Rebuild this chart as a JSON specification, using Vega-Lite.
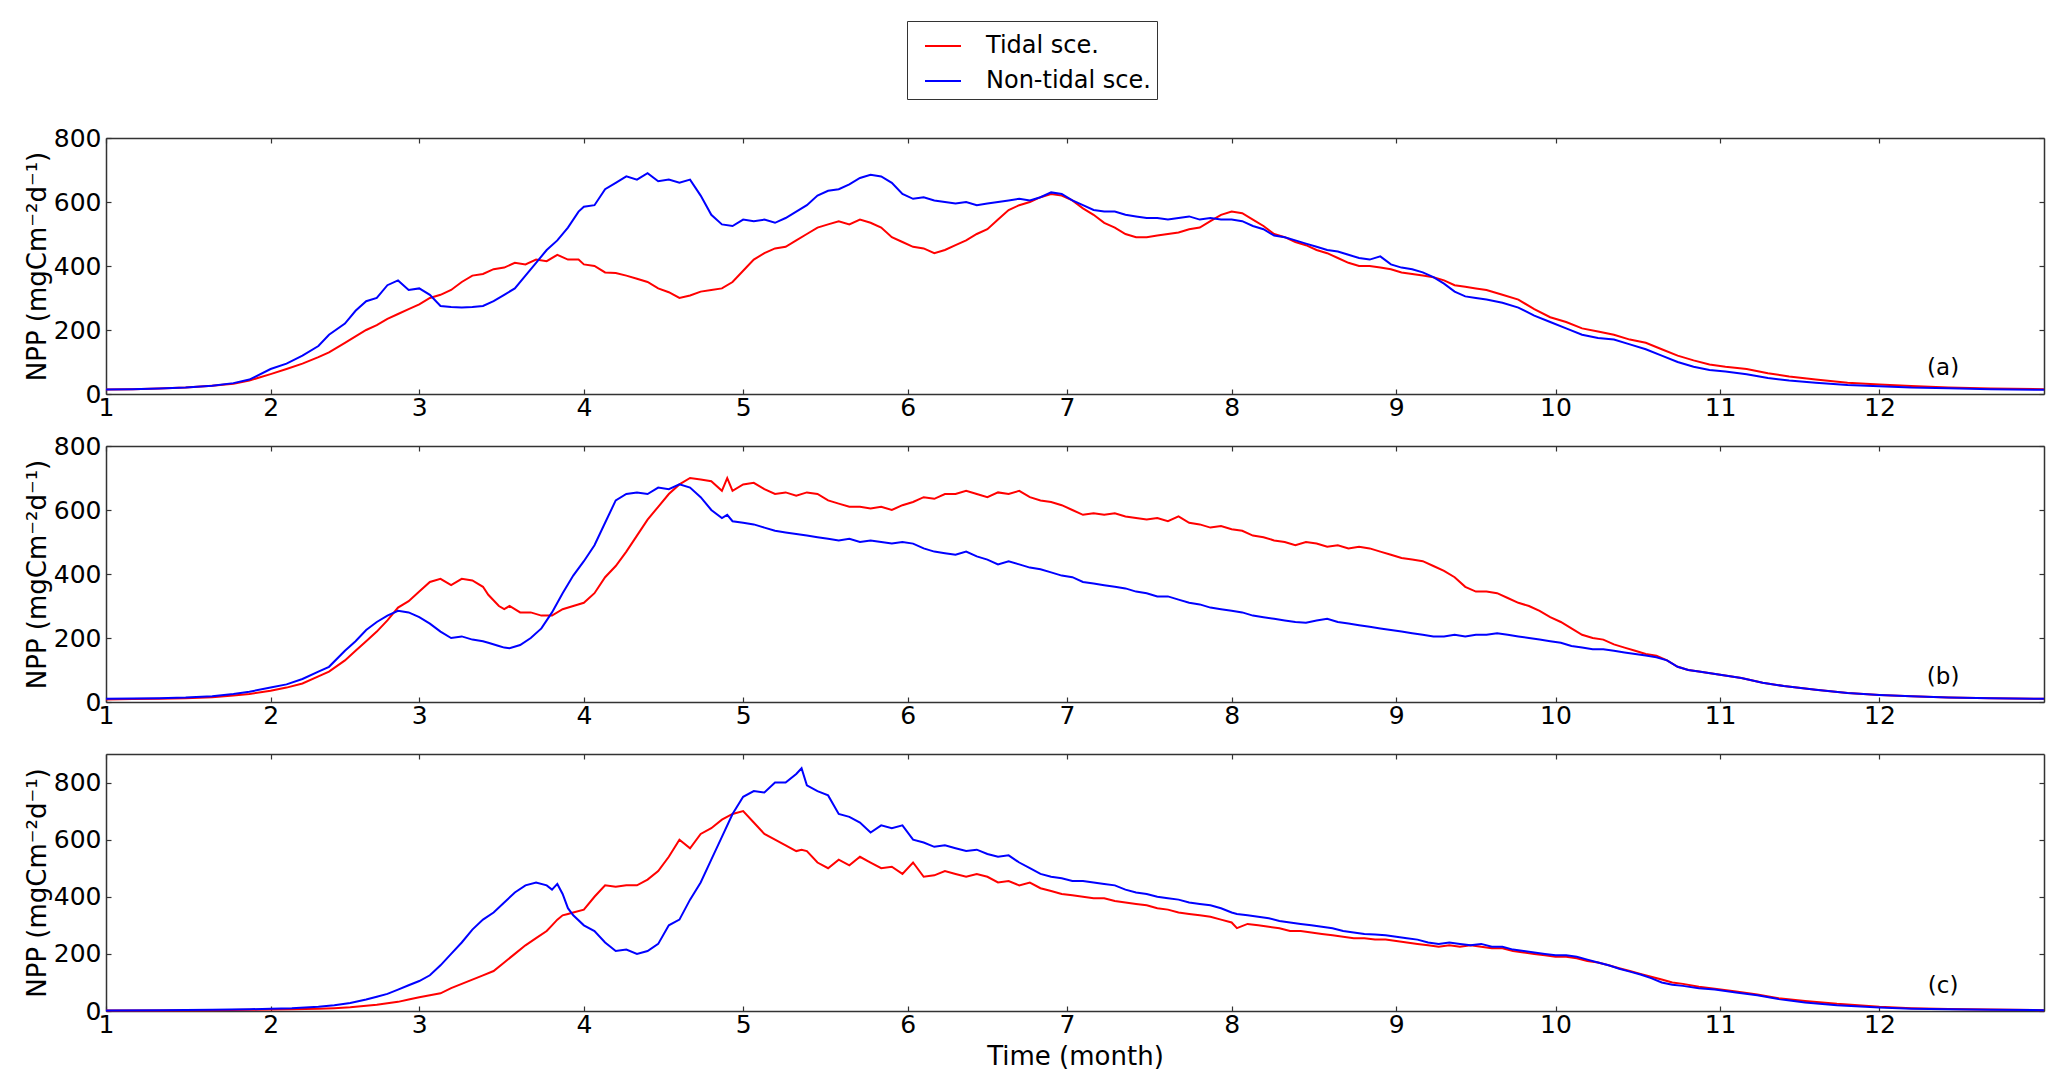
{
"$schema":"https://vega.github.io/schema/vega-lite/v6.json",
"background":"white",
"padding":{"left":24,"top":20,"right":21,"bottom":10},
"config":{
 "font":"DejaVu Sans",
 "view":{"stroke":null},
 "axis":{"labelFont":"DejaVu Sans","labelFontSize":25,"labelColor":"black","titleFont":"DejaVu Sans","titleFontSize":26,"titleColor":"black","titleFontWeight":"normal","domainColor":"#333333","domainWidth":1.5,"tickColor":"#333333","tickWidth":1.2,"tickSize":-5,"grid":false,"labelFlush":false,"labelOverlap":false,"labelBound":false},
 "legend":{"labelFont":"DejaVu Sans","labelFontSize":24,"labelColor":"black","labelLimit":400}
},
"datasets":{
"a":[{"d":0,"t":14,"n":14},{"d":5,"t":15,"n":15},{"d":10,"t":17,"n":17},{"d":15,"t":20,"n":20},{"d":20,"t":26,"n":26},{"d":24,"t":32,"n":34},{"d":27,"t":42,"n":45},{"d":31,"t":62,"n":78},{"d":34,"t":78,"n":95},{"d":37,"t":95,"n":120},{"d":40,"t":115,"n":150},{"d":42,"t":130,"n":185},{"d":45,"t":160,"n":220},{"d":47,"t":180,"n":260},{"d":49,"t":200,"n":290},{"d":51,"t":215,"n":300},{"d":53,"t":235,"n":340},{"d":55,"t":250,"n":355},{"d":57,"t":265,"n":325},{"d":59,"t":280,"n":330},{"d":61,"t":300,"n":310},{"d":63,"t":310,"n":275},{"d":65,"t":325,"n":272},{"d":67,"t":350,"n":270},{"d":69,"t":370,"n":272},{"d":71,"t":375,"n":275},{"d":73,"t":390,"n":290},{"d":75,"t":395,"n":310},{"d":77,"t":410,"n":330},{"d":79,"t":405,"n":370},{"d":81,"t":420,"n":410},{"d":83,"t":415,"n":450},{"d":85,"t":435,"n":480},{"d":87,"t":420,"n":520},{"d":89,"t":420,"n":570},{"d":90,"t":405,"n":585},{"d":92,"t":400,"n":590},{"d":94,"t":380,"n":640},{"d":96,"t":378,"n":660},{"d":98,"t":370,"n":680},{"d":100,"t":360,"n":670},{"d":102,"t":350,"n":690},{"d":104,"t":330,"n":665},{"d":106,"t":318,"n":670},{"d":108,"t":300,"n":660},{"d":110,"t":308,"n":670},{"d":112,"t":320,"n":620},{"d":114,"t":325,"n":560},{"d":116,"t":330,"n":530},{"d":118,"t":350,"n":525},{"d":120,"t":385,"n":545},{"d":122,"t":420,"n":540},{"d":124,"t":440,"n":545},{"d":126,"t":455,"n":535},{"d":128,"t":460,"n":550},{"d":130,"t":480,"n":570},{"d":132,"t":500,"n":590},{"d":134,"t":520,"n":620},{"d":136,"t":530,"n":635},{"d":138,"t":540,"n":640},{"d":140,"t":530,"n":655},{"d":142,"t":545,"n":675},{"d":144,"t":535,"n":685},{"d":146,"t":520,"n":680},{"d":148,"t":490,"n":660},{"d":150,"t":475,"n":625},{"d":152,"t":460,"n":610},{"d":154,"t":455,"n":615},{"d":156,"t":440,"n":605},{"d":158,"t":450,"n":600},{"d":160,"t":465,"n":595},{"d":162,"t":480,"n":600},{"d":164,"t":500,"n":590},{"d":166,"t":515,"n":595},{"d":168,"t":545,"n":600},{"d":170,"t":575,"n":605},{"d":172,"t":590,"n":610},{"d":174,"t":600,"n":605},{"d":176,"t":615,"n":615},{"d":178,"t":625,"n":630},{"d":180,"t":620,"n":625},{"d":182,"t":605,"n":605},{"d":184,"t":580,"n":590},{"d":186,"t":560,"n":575},{"d":188,"t":535,"n":570},{"d":190,"t":520,"n":570},{"d":192,"t":500,"n":560},{"d":194,"t":490,"n":555},{"d":196,"t":490,"n":550},{"d":198,"t":495,"n":550},{"d":200,"t":500,"n":545},{"d":202,"t":505,"n":550},{"d":204,"t":515,"n":555},{"d":206,"t":520,"n":545},{"d":208,"t":540,"n":550},{"d":210,"t":560,"n":545},{"d":212,"t":570,"n":545},{"d":214,"t":565,"n":540},{"d":216,"t":545,"n":525},{"d":218,"t":525,"n":515},{"d":220,"t":500,"n":495},{"d":222,"t":490,"n":490},{"d":224,"t":475,"n":480},{"d":226,"t":465,"n":470},{"d":228,"t":450,"n":460},{"d":230,"t":440,"n":450},{"d":232,"t":425,"n":445},{"d":234,"t":410,"n":435},{"d":236,"t":400,"n":425},{"d":238,"t":400,"n":420},{"d":240,"t":395,"n":430},{"d":242,"t":390,"n":405},{"d":244,"t":380,"n":395},{"d":246,"t":375,"n":390},{"d":248,"t":370,"n":380},{"d":250,"t":365,"n":365},{"d":252,"t":355,"n":345},{"d":254,"t":340,"n":320},{"d":256,"t":335,"n":305},{"d":258,"t":330,"n":300},{"d":260,"t":325,"n":295},{"d":263,"t":310,"n":285},{"d":266,"t":295,"n":270},{"d":269,"t":265,"n":245},{"d":272,"t":240,"n":225},{"d":275,"t":225,"n":205},{"d":278,"t":205,"n":185},{"d":281,"t":195,"n":175},{"d":284,"t":185,"n":170},{"d":287,"t":170,"n":155},{"d":290,"t":160,"n":140},{"d":293,"t":140,"n":120},{"d":296,"t":120,"n":100},{"d":299,"t":105,"n":85},{"d":302,"t":92,"n":75},{"d":305,"t":85,"n":70},{"d":309,"t":78,"n":62},{"d":313,"t":65,"n":50},{"d":317,"t":55,"n":42},{"d":322,"t":45,"n":35},{"d":328,"t":35,"n":28},{"d":334,"t":30,"n":24},{"d":340,"t":25,"n":20},{"d":347,"t":20,"n":18},{"d":355,"t":17,"n":15},{"d":365,"t":15,"n":13}],
"b":[{"d":0,"t":8,"n":10},{"d":5,"t":9,"n":11},{"d":10,"t":10,"n":12},{"d":15,"t":12,"n":14},{"d":20,"t":15,"n":18},{"d":24,"t":20,"n":25},{"d":27,"t":25,"n":32},{"d":31,"t":35,"n":45},{"d":34,"t":45,"n":55},{"d":37,"t":58,"n":72},{"d":40,"t":80,"n":95},{"d":42,"t":95,"n":110},{"d":45,"t":130,"n":160},{"d":47,"t":160,"n":190},{"d":49,"t":190,"n":225},{"d":51,"t":220,"n":250},{"d":53,"t":255,"n":270},{"d":55,"t":295,"n":285},{"d":57,"t":315,"n":280},{"d":59,"t":345,"n":265},{"d":61,"t":375,"n":245},{"d":63,"t":385,"n":220},{"d":65,"t":365,"n":200},{"d":67,"t":385,"n":205},{"d":69,"t":380,"n":195},{"d":71,"t":360,"n":190},{"d":72,"t":335,"n":185},{"d":74,"t":300,"n":175},{"d":75,"t":290,"n":170},{"d":76,"t":300,"n":168},{"d":78,"t":280,"n":178},{"d":80,"t":280,"n":200},{"d":82,"t":270,"n":230},{"d":84,"t":270,"n":280},{"d":86,"t":290,"n":340},{"d":88,"t":300,"n":395},{"d":90,"t":310,"n":440},{"d":92,"t":340,"n":490},{"d":94,"t":390,"n":560},{"d":96,"t":425,"n":630},{"d":98,"t":470,"n":650},{"d":100,"t":520,"n":655},{"d":102,"t":570,"n":650},{"d":104,"t":610,"n":670},{"d":106,"t":650,"n":665},{"d":108,"t":680,"n":680},{"d":110,"t":700,"n":670},{"d":112,"t":695,"n":640},{"d":114,"t":690,"n":600},{"d":116,"t":660,"n":575},{"d":117,"t":700,"n":585},{"d":118,"t":660,"n":565},{"d":120,"t":680,"n":560},{"d":122,"t":685,"n":555},{"d":124,"t":665,"n":545},{"d":126,"t":650,"n":535},{"d":128,"t":655,"n":530},{"d":130,"t":645,"n":525},{"d":132,"t":655,"n":520},{"d":134,"t":650,"n":515},{"d":136,"t":630,"n":510},{"d":138,"t":620,"n":505},{"d":140,"t":610,"n":510},{"d":142,"t":610,"n":500},{"d":144,"t":605,"n":505},{"d":146,"t":610,"n":500},{"d":148,"t":600,"n":495},{"d":150,"t":615,"n":500},{"d":152,"t":625,"n":495},{"d":154,"t":640,"n":480},{"d":156,"t":635,"n":470},{"d":158,"t":650,"n":465},{"d":160,"t":650,"n":460},{"d":162,"t":660,"n":470},{"d":164,"t":650,"n":455},{"d":166,"t":640,"n":445},{"d":168,"t":655,"n":430},{"d":170,"t":650,"n":440},{"d":172,"t":660,"n":430},{"d":174,"t":640,"n":420},{"d":176,"t":630,"n":415},{"d":178,"t":625,"n":405},{"d":180,"t":615,"n":395},{"d":182,"t":600,"n":390},{"d":184,"t":585,"n":375},{"d":186,"t":590,"n":370},{"d":188,"t":585,"n":365},{"d":190,"t":590,"n":360},{"d":192,"t":580,"n":355},{"d":194,"t":575,"n":345},{"d":196,"t":570,"n":340},{"d":198,"t":575,"n":330},{"d":200,"t":565,"n":330},{"d":202,"t":580,"n":320},{"d":204,"t":560,"n":310},{"d":206,"t":555,"n":305},{"d":208,"t":545,"n":295},{"d":210,"t":550,"n":290},{"d":212,"t":540,"n":285},{"d":214,"t":535,"n":280},{"d":216,"t":520,"n":270},{"d":218,"t":515,"n":265},{"d":220,"t":505,"n":260},{"d":222,"t":500,"n":255},{"d":224,"t":490,"n":250},{"d":226,"t":500,"n":248},{"d":228,"t":495,"n":255},{"d":230,"t":485,"n":260},{"d":232,"t":490,"n":250},{"d":234,"t":480,"n":245},{"d":236,"t":485,"n":240},{"d":238,"t":480,"n":235},{"d":240,"t":470,"n":230},{"d":242,"t":460,"n":225},{"d":244,"t":450,"n":220},{"d":246,"t":445,"n":215},{"d":248,"t":440,"n":210},{"d":250,"t":425,"n":205},{"d":252,"t":410,"n":205},{"d":254,"t":390,"n":210},{"d":256,"t":360,"n":205},{"d":258,"t":345,"n":210},{"d":260,"t":345,"n":210},{"d":262,"t":340,"n":215},{"d":264,"t":325,"n":210},{"d":266,"t":310,"n":205},{"d":268,"t":300,"n":200},{"d":270,"t":285,"n":195},{"d":272,"t":265,"n":190},{"d":274,"t":250,"n":185},{"d":276,"t":230,"n":175},{"d":278,"t":210,"n":170},{"d":280,"t":200,"n":165},{"d":282,"t":195,"n":165},{"d":284,"t":180,"n":160},{"d":286,"t":170,"n":155},{"d":288,"t":160,"n":150},{"d":290,"t":150,"n":145},{"d":292,"t":145,"n":140},{"d":294,"t":130,"n":130},{"d":296,"t":110,"n":110},{"d":298,"t":100,"n":100},{"d":300,"t":95,"n":95},{"d":304,"t":85,"n":85},{"d":308,"t":75,"n":75},{"d":312,"t":60,"n":60},{"d":316,"t":50,"n":50},{"d":322,"t":38,"n":38},{"d":328,"t":28,"n":28},{"d":334,"t":22,"n":22},{"d":340,"t":18,"n":18},{"d":347,"t":14,"n":14},{"d":355,"t":12,"n":12},{"d":365,"t":10,"n":10}],
"c":[{"d":0,"t":2,"n":2},{"d":10,"t":2,"n":3},{"d":20,"t":3,"n":4},{"d":27,"t":4,"n":6},{"d":31,"t":5,"n":8},{"d":35,"t":6,"n":10},{"d":40,"t":8,"n":15},{"d":43,"t":10,"n":20},{"d":46,"t":13,"n":28},{"d":49,"t":18,"n":40},{"d":51,"t":22,"n":50},{"d":53,"t":27,"n":60},{"d":55,"t":32,"n":75},{"d":57,"t":40,"n":90},{"d":59,"t":48,"n":105},{"d":61,"t":55,"n":125},{"d":63,"t":62,"n":160},{"d":65,"t":80,"n":200},{"d":67,"t":95,"n":240},{"d":69,"t":110,"n":285},{"d":71,"t":125,"n":320},{"d":73,"t":140,"n":345},{"d":75,"t":170,"n":380},{"d":77,"t":200,"n":415},{"d":79,"t":230,"n":440},{"d":81,"t":255,"n":450},{"d":83,"t":280,"n":440},{"d":84,"t":300,"n":425},{"d":85,"t":320,"n":445},{"d":86,"t":335,"n":410},{"d":87,"t":340,"n":360},{"d":88,"t":345,"n":335},{"d":90,"t":355,"n":300},{"d":92,"t":400,"n":280},{"d":94,"t":440,"n":240},{"d":96,"t":435,"n":210},{"d":98,"t":440,"n":215},{"d":100,"t":440,"n":200},{"d":102,"t":460,"n":210},{"d":104,"t":490,"n":235},{"d":106,"t":540,"n":300},{"d":108,"t":600,"n":320},{"d":110,"t":570,"n":390},{"d":112,"t":620,"n":450},{"d":114,"t":640,"n":530},{"d":116,"t":670,"n":610},{"d":118,"t":690,"n":690},{"d":120,"t":700,"n":750},{"d":122,"t":660,"n":770},{"d":124,"t":620,"n":765},{"d":126,"t":600,"n":800},{"d":128,"t":580,"n":800},{"d":130,"t":560,"n":830},{"d":131,"t":565,"n":850},{"d":132,"t":560,"n":790},{"d":134,"t":520,"n":770},{"d":136,"t":500,"n":755},{"d":138,"t":530,"n":690},{"d":140,"t":510,"n":680},{"d":142,"t":540,"n":660},{"d":144,"t":520,"n":625},{"d":146,"t":500,"n":650},{"d":148,"t":505,"n":640},{"d":150,"t":480,"n":650},{"d":152,"t":520,"n":600},{"d":154,"t":470,"n":590},{"d":156,"t":475,"n":575},{"d":158,"t":490,"n":580},{"d":160,"t":480,"n":570},{"d":162,"t":470,"n":560},{"d":164,"t":480,"n":565},{"d":166,"t":470,"n":550},{"d":168,"t":450,"n":540},{"d":170,"t":455,"n":545},{"d":172,"t":440,"n":520},{"d":174,"t":450,"n":500},{"d":176,"t":430,"n":480},{"d":178,"t":420,"n":470},{"d":180,"t":410,"n":465},{"d":182,"t":405,"n":455},{"d":184,"t":400,"n":455},{"d":186,"t":395,"n":450},{"d":188,"t":395,"n":445},{"d":190,"t":385,"n":440},{"d":192,"t":380,"n":425},{"d":194,"t":375,"n":415},{"d":196,"t":370,"n":410},{"d":198,"t":360,"n":400},{"d":200,"t":355,"n":395},{"d":202,"t":345,"n":390},{"d":204,"t":340,"n":380},{"d":206,"t":335,"n":375},{"d":208,"t":330,"n":370},{"d":210,"t":320,"n":360},{"d":212,"t":310,"n":345},{"d":213,"t":290,"n":340},{"d":215,"t":305,"n":335},{"d":217,"t":300,"n":330},{"d":219,"t":295,"n":325},{"d":221,"t":290,"n":315},{"d":223,"t":280,"n":310},{"d":225,"t":280,"n":305},{"d":227,"t":275,"n":300},{"d":229,"t":270,"n":295},{"d":231,"t":265,"n":290},{"d":233,"t":260,"n":280},{"d":235,"t":255,"n":275},{"d":237,"t":255,"n":270},{"d":239,"t":250,"n":268},{"d":241,"t":250,"n":265},{"d":243,"t":245,"n":260},{"d":245,"t":240,"n":255},{"d":247,"t":235,"n":250},{"d":249,"t":230,"n":240},{"d":251,"t":225,"n":235},{"d":253,"t":230,"n":240},{"d":255,"t":225,"n":235},{"d":257,"t":230,"n":230},{"d":259,"t":225,"n":235},{"d":261,"t":220,"n":225},{"d":263,"t":220,"n":225},{"d":265,"t":210,"n":215},{"d":267,"t":205,"n":210},{"d":269,"t":200,"n":205},{"d":271,"t":195,"n":200},{"d":273,"t":190,"n":195},{"d":275,"t":190,"n":195},{"d":277,"t":185,"n":190},{"d":279,"t":175,"n":180},{"d":281,"t":170,"n":170},{"d":283,"t":160,"n":160},{"d":285,"t":150,"n":148},{"d":287,"t":140,"n":138},{"d":289,"t":130,"n":128},{"d":291,"t":120,"n":115},{"d":293,"t":110,"n":100},{"d":295,"t":100,"n":92},{"d":297,"t":95,"n":88},{"d":300,"t":85,"n":80},{"d":303,"t":78,"n":75},{"d":307,"t":68,"n":65},{"d":311,"t":58,"n":55},{"d":315,"t":45,"n":42},{"d":320,"t":35,"n":30},{"d":326,"t":25,"n":20},{"d":334,"t":15,"n":12},{"d":340,"t":10,"n":8},{"d":347,"t":7,"n":6},{"d":355,"t":5,"n":4},{"d":365,"t":3,"n":3}]
},
"bounds":"flush",
"spacing":52,
"resolve":{"scale":{"color":"shared"},"legend":{"color":"shared"}},
"vconcat":[
{"width":1938,"height":256,
 "layer":[
  {"data":{"name":"a"},"transform":[{"fold":["t","n"],"as":["s","v"]}],
   "mark":{"type":"line","strokeWidth":2},
   "encoding":{
    "x":{"field":"d","type":"quantitative","scale":{"domain":[0,365],"nice":false,"zero":false},"axis":{"orient":"bottom","values":[0,31,59,90,120,151,181,212,243,273,304,334],"labelExpr":"'' + (indexof([0,31,59,90,120,151,181,212,243,273,304,334], datum.value) + 1)","title":null,"labelPadding":6}},
    "y":{"field":"v","type":"quantitative","scale":{"domain":[0,800],"nice":false},"axis":{"orient":"left","values":[0,200,400,600,800],"title":"NPP (mgCm⁻²d⁻¹)","labelPadding":10,"titlePadding":3}},
    "color":{"field":"s","type":"nominal","scale":{"domain":["t","n"],"range":["#ff0000","#0000ff"]},
     "legend":{"orient":"none","legendX":801,"legendY":-117,"title":null,"symbolType":"stroke","symbolSize":1296,"symbolStrokeWidth":2,"symbolOffset":11,"labelOffset":24,"rowPadding":4,"padding":6,"strokeColor":"#333333","fillColor":"white","labelLimit":400,"labelExpr":"datum.value == 't' ? 'Tidal sce.' : 'Non-tidal sce.'"}}
   }},
  {"data":{"values":[{"d":346,"v":80,"txt":"(a)"}]},
   "mark":{"type":"text","fontSize":23,"font":"DejaVu Sans","color":"black"},
   "encoding":{
    "x":{"field":"d","type":"quantitative","scale":{"domain":[0,365],"nice":false,"zero":false},"axis":{"orient":"top","values":[0,31,59,90,120,151,181,212,243,273,304,334],"labels":false,"title":null}},
    "y":{"field":"v","type":"quantitative","scale":{"domain":[0,800],"nice":false},"axis":{"orient":"right","values":[0,200,400,600,800],"labels":false,"title":null}},
    "text":{"field":"txt"}
   }}
 ],
 "resolve":{"axis":{"x":"independent","y":"independent"}}
},
{"width":1938,"height":256,
 "layer":[
  {"data":{"name":"b"},"transform":[{"fold":["t","n"],"as":["s","v"]}],
   "mark":{"type":"line","strokeWidth":2},
   "encoding":{
    "x":{"field":"d","type":"quantitative","scale":{"domain":[0,365],"nice":false,"zero":false},"axis":{"orient":"bottom","values":[0,31,59,90,120,151,181,212,243,273,304,334],"labelExpr":"'' + (indexof([0,31,59,90,120,151,181,212,243,273,304,334], datum.value) + 1)","title":null,"labelPadding":6}},
    "y":{"field":"v","type":"quantitative","scale":{"domain":[0,800],"nice":false},"axis":{"orient":"left","values":[0,200,400,600,800],"title":"NPP (mgCm⁻²d⁻¹)","labelPadding":10,"titlePadding":3}},
    "color":{"field":"s","type":"nominal","scale":{"domain":["t","n"],"range":["#ff0000","#0000ff"]}}
   }},
  {"data":{"values":[{"d":346,"v":78,"txt":"(b)"}]},
   "mark":{"type":"text","fontSize":23,"font":"DejaVu Sans","color":"black"},
   "encoding":{
    "x":{"field":"d","type":"quantitative","scale":{"domain":[0,365],"nice":false,"zero":false},"axis":{"orient":"top","values":[0,31,59,90,120,151,181,212,243,273,304,334],"labels":false,"title":null}},
    "y":{"field":"v","type":"quantitative","scale":{"domain":[0,800],"nice":false},"axis":{"orient":"right","values":[0,200,400,600,800],"labels":false,"title":null}},
    "text":{"field":"txt"}
   }}
 ],
 "resolve":{"axis":{"x":"independent","y":"independent"}}
},
{"width":1938,"height":257,
 "layer":[
  {"data":{"name":"c"},"transform":[{"fold":["t","n"],"as":["s","v"]}],
   "mark":{"type":"line","strokeWidth":2},
   "encoding":{
    "x":{"field":"d","type":"quantitative","scale":{"domain":[0,365],"nice":false,"zero":false},"axis":{"orient":"bottom","values":[0,31,59,90,120,151,181,212,243,273,304,334],"labelExpr":"'' + (indexof([0,31,59,90,120,151,181,212,243,273,304,334], datum.value) + 1)","title":"Time (month)","titleFontSize":26,"titlePadding":6,"labelPadding":6}},
    "y":{"field":"v","type":"quantitative","scale":{"domain":[0,900],"nice":false},"axis":{"orient":"left","values":[0,200,400,600,800],"title":"NPP (mgCm⁻²d⁻¹)","labelPadding":10,"titlePadding":3}},
    "color":{"field":"s","type":"nominal","scale":{"domain":["t","n"],"range":["#ff0000","#0000ff"]}}
   }},
  {"data":{"values":[{"d":346,"v":87,"txt":"(c)"}]},
   "mark":{"type":"text","fontSize":23,"font":"DejaVu Sans","color":"black"},
   "encoding":{
    "x":{"field":"d","type":"quantitative","scale":{"domain":[0,365],"nice":false,"zero":false},"axis":{"orient":"top","values":[0,31,59,90,120,151,181,212,243,273,304,334],"labels":false,"title":null}},
    "y":{"field":"v","type":"quantitative","scale":{"domain":[0,900],"nice":false},"axis":{"orient":"right","values":[0,200,400,600,800],"labels":false,"title":null}},
    "text":{"field":"txt"}
   }}
 ],
 "resolve":{"axis":{"x":"independent","y":"independent"}}
}
]
}
